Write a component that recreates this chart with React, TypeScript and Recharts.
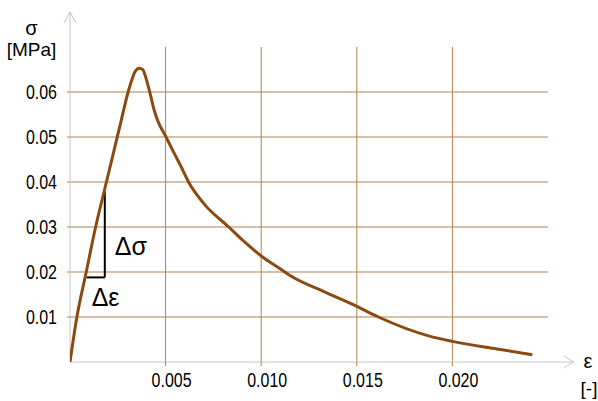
import React from "react";
import { LineChart, Line, XAxis, YAxis, CartesianGrid, ReferenceLine } from "recharts";

const strain = [0, 0.00036, 0.00085, 0.00134, 0.00182, 0.00232, 0.00268, 0.00304, 0.00322, 0.0034, 0.00362, 0.0038, 0.004, 0.0042, 0.0044, 0.0046, 0.005, 0.0054, 0.0058, 0.0062, 0.007, 0.0083, 0.0091, 0.01002, 0.01107, 0.01151, 0.01325, 0.015, 0.01613, 0.01884, 0.02, 0.02233, 0.02418];
const stress = [0, 0.01, 0.02, 0.03, 0.0385, 0.0473, 0.0537, 0.06, 0.0625, 0.0645, 0.0653, 0.065, 0.0627, 0.0595, 0.056, 0.0535, 0.0502, 0.0468, 0.0435, 0.04, 0.0352, 0.03, 0.0268, 0.0235, 0.0205, 0.0192, 0.0157, 0.01236, 0.01, 0.0057, 0.00458, 0.00289, 0.00162];
const xTicks = [0.005, 0.01, 0.015, 0.02];
const yTicks = [0.01, 0.02, 0.03, 0.04, 0.05, 0.06];
const xDomain = [0, 0.025];
const yDomain = [0, 0.07];
const triStrain = [0.00087, 0.00182];
const triStress = [0.0188, 0.0379];
const xArrowEnd = 0.02634;
const yArrowEnd = 0.0778;

const data = strain.map((e, i) => ({ e, s: stress[i] }));

const GRID = "#b0814f";
const CURVE = "#8a4a12";
const AXIS = "#c6c6c6";
const SANS = "'Liberation Sans', Arial, sans-serif";

const ArrowY = (p: any) => (
  <g>
    <line x1={p.x1} y1={p.y1} x2={p.x2} y2={p.y2} stroke={AXIS} strokeWidth={1} />
    <polyline points={`${p.x2 - 6},${p.y2 + 11} ${p.x2},${p.y2} ${p.x2 + 6},${p.y2 + 11}`} fill="none" stroke={AXIS} strokeWidth={1} />
  </g>
);

const ArrowX = (p: any) => (
  <g>
    <line x1={p.x1} y1={p.y1} x2={p.x2} y2={p.y2} stroke={AXIS} strokeWidth={1} />
    <polyline points={`${p.x2 - 10},${p.y2 - 6} ${p.x2},${p.y2} ${p.x2 - 10},${p.y2 + 6}`} fill="none" stroke={AXIS} strokeWidth={1} />
  </g>
);

const TriVertical = (p: any) => (
  <g>
    <line x1={p.x1} y1={p.y1} x2={p.x2} y2={p.y2} stroke="#000" strokeWidth={2} />
    <text x={Math.max(p.x1, p.x2) + 10} y={Math.max(p.y1, p.y2) - 22} fontFamily={SANS} fontSize={25} fill="#000">Δσ</text>
  </g>
);

const TriHorizontal = (p: any) => (
  <g>
    <line x1={p.x1} y1={p.y1} x2={p.x2} y2={p.y2} stroke="#000" strokeWidth={2} />
    <text x={Math.min(p.x1, p.x2) + 5} y={p.y1 + 29} fontFamily={SANS} fontSize={25} fill="#000">Δε</text>
  </g>
);

const NarrowTick = (props: any) => {
  const { x, y, payload, textAnchor, fmt, dx = 0, dy } = props;
  const tx = x + dx;
  return (
    <g transform={`translate(${tx},${y}) scale(0.82,1)`}>
      <text x={0} y={0} dy={dy} textAnchor={textAnchor} fontFamily={SANS} fontSize={19.5} fill="#000">
        {fmt(payload.value)}
      </text>
    </g>
  );
};

const toY = (o: any, v: number) => o.top + o.height * (1 - (v - yDomain[0]) / (yDomain[1] - yDomain[0]));
const toX = (o: any, v: number) => o.left + o.width * ((v - xDomain[0]) / (xDomain[1] - xDomain[0]));

export default function App() {
  return (
    <div style={{ position: "absolute", left: 0, top: 0, width: 598, height: 401 }}>
      <LineChart width={598} height={401} data={data} margin={{ top: 47, right: 50, bottom: 9, left: 0 }}>
        <CartesianGrid
          stroke={GRID}
          strokeWidth={1}
          horizontalCoordinatesGenerator={(p: any) => yTicks.map((t) => toY(p.offset, t))}
          verticalCoordinatesGenerator={(p: any) => xTicks.map((t) => toX(p.offset, t))}
        />
        <XAxis
          type="number"
          dataKey="e"
          domain={xDomain}
          ticks={xTicks}
          axisLine={false}
          tickLine={{ stroke: GRID }}
          tickSize={4}
          tickMargin={7}
          height={30}
          tick={(p: any) => <NarrowTick {...p} dx={6} dy="0.71em" textAnchor="middle" fmt={(v: number) => v.toFixed(3)} />}
          allowDataOverflow
        />
        <YAxis
          type="number"
          dataKey="s"
          domain={yDomain}
          ticks={yTicks}
          axisLine={false}
          tickLine={{ stroke: GRID }}
          tickSize={3}
          tickMargin={10}
          width={70}
          tick={(p: any) => <NarrowTick {...p} dy="0.355em" textAnchor="end" fmt={(v: number) => v.toFixed(2)} />}
          allowDataOverflow
        />
        <ReferenceLine segment={[{ x: 0, y: 0 }, { x: 0, y: yArrowEnd }]} ifOverflow="visible" shape={ArrowY} />
        <ReferenceLine segment={[{ x: 0, y: 0 }, { x: xArrowEnd, y: 0 }]} ifOverflow="visible" shape={ArrowX} />
        <ReferenceLine segment={[{ x: triStrain[1], y: triStress[0] }, { x: triStrain[1], y: triStress[1] }]} ifOverflow="visible" shape={TriVertical} />
        <ReferenceLine segment={[{ x: triStrain[0], y: triStress[0] }, { x: triStrain[1], y: triStress[0] }]} ifOverflow="visible" shape={TriHorizontal} />
        <Line type="monotone" dataKey="s" stroke={CURVE} strokeWidth={3} dot={false} activeDot={false} isAnimationActive={false} />
      </LineChart>
      <svg width={598} height={401} style={{ position: "absolute", left: 0, top: 0, pointerEvents: "none" }}>
        <text x={31.5} y={35} textAnchor="middle" fontFamily={SANS} fontSize={20} fill="#000">σ</text>
        <text x={31.5} y={56} textAnchor="middle" fontFamily={SANS} fontSize={19} fill="#000">[MPa]</text>
        <text x={588} y={368} textAnchor="middle" fontFamily={SANS} fontSize={20} fill="#000">ε</text>
        <text x={589} y={395} textAnchor="middle" fontFamily={SANS} fontSize={19} fill="#000">[-]</text>
      </svg>
    </div>
  );
}
